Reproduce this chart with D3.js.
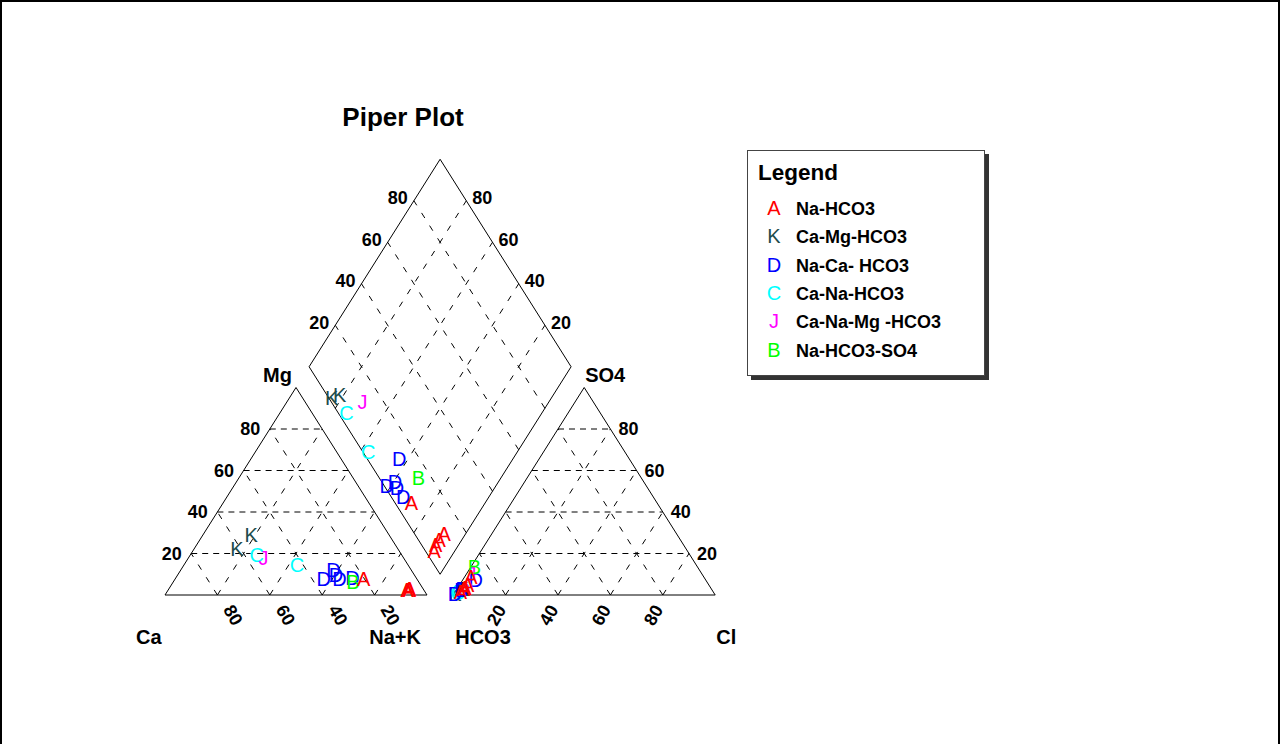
<!DOCTYPE html>
<html>
<head>
<meta charset="utf-8">
<script src="https://cdn.jsdelivr.net/npm/d3@7"></script>
<style>
  html, body { margin: 0; padding: 0; background: #fff; }
  svg { display: block; }
  text { font-family: "Liberation Sans", Arial, Helvetica, sans-serif; }
</style>
</head>
<body>
<script>
// ---- Sample compositions (percent of meq/L) ----
const sampleType = ["K", "K", "C", "C", "J", "D", "D", "D", "D", "D", "B", "A", "A", "A", "A", "A"];
const caPct   = [61.3, 52.7, 55.3, 42.4, 53.6, 35.4, 29.7, 30.0, 29.4, 24.2, 25.1, 20.4, 6.1, 6.3, 5.2, 5.4];
const mgPct   = [22.5, 28.9, 19.3, 14.5, 17.7, 8.0, 12.0, 9.5, 8.0, 8.5, 6.4, 7.6, 2.7, 2.5, 3.0, 2.6];
const naKPct  = [16.2, 18.4, 25.4, 43.1, 28.7, 56.6, 58.3, 60.5, 62.6, 67.3, 68.5, 72.0, 91.2, 91.2, 91.8, 92.0];
const hco3Pct = [99.0, 95.0, 96.9, 97.9, 88.0, 87.8, 99.1, 94.9, 95.6, 95.4, 85.1, 93.8, 94.5, 92.0, 88.7, 96.5];
const so4Pct  = [0.6, 3.0, 2.0, 1.0, 10.0, 7.2, 0.5, 3.0, 2.5, 2.6, 13.6, 3.5, 3.0, 5.0, 9.0, 1.5];
const clPct   = [0.4, 2.0, 1.1, 1.1, 2.0, 5.0, 0.4, 2.1, 1.9, 2.0, 1.3, 2.7, 2.5, 3.0, 2.3, 2.0];

// ---- Legend ----
const legendCodes  = ["A", "K", "D", "C", "J", "B"];
const legendLabels = ["Na-HCO3", "Ca-Mg-HCO3", "Na-Ca- HCO3", "Ca-Na-HCO3", "Ca-Na-Mg -HCO3", "Na-HCO3-SO4"];
const legendColors = ["#ff0000", "#1c4c4c", "#0000ff", "#00ffff", "#ff00ff", "#00ff00"];

// ---- Grid / tick values ----
const gridPct = [20, 40, 60, 80];

const W = 1280, H = 744;
const svg = d3.select("body").append("svg").attr("width", W).attr("height", H);

// outer frame
svg.append("rect").attr("x", 1).attr("y", 1).attr("width", W - 2).attr("height", H + 40)
  .attr("fill", "none").attr("stroke", "#000").attr("stroke-width", 2);

// Layout in triangle units: side = 1, height = 1, gap between triangles = 0.1
const gap = 0.1;
const X = d3.scaleLinear().domain([0, 2 + gap]).range([165, 715.2]);
const Y = d3.scaleLinear().domain([0, 2 + gap]).range([595, 159.25]);
const P = (u, v) => [X(u), Y(v)];
const color = d3.scaleOrdinal().domain(legendCodes).range(legendColors);

// composition -> unit coordinates
const cationPt = (mg, na) => [na / 100 + mg / 200, mg / 100];
const anionPt  = (so4, cl) => [1 + gap + cl / 100 + so4 / 200, so4 / 100];
const diamondPt = (na, sc) => {
  const c = 1 - na / 100, b = sc / 100;
  return [1 + gap / 2 - 0.5 * c + 0.5 * b, gap + c + b];
};

const line = d3.line().x(d => X(d[0])).y(d => Y(d[1]));
const g = svg.append("g");

// ---- Dashed grid ----
const gridG = g.append("g").attr("fill", "none").attr("stroke", "#000").attr("stroke-width", 1);
gridPct.forEach(p => {
  const t = p / 100;
  // cation triangle
  gridG.append("path").attr("d", line([[t / 2, t], [1 - t / 2, t]])).attr("stroke-dasharray", "6,5");
  gridG.append("path").attr("d", line([[1 - t, 0], [(1 - t) / 2, 1 - t]])).attr("stroke-dasharray", "6,9");
  gridG.append("path").attr("d", line([[t, 0], [t + (1 - t) / 2, 1 - t]])).attr("stroke-dasharray", "6,9");
  // anion triangle
  const o = 1 + gap;
  gridG.append("path").attr("d", line([[o + t / 2, t], [o + 1 - t / 2, t]])).attr("stroke-dasharray", "6,5");
  gridG.append("path").attr("d", line([[o + t, 0], [o + t + (1 - t) / 2, 1 - t]])).attr("stroke-dasharray", "6,9");
  gridG.append("path").attr("d", line([[o + 1 - t, 0], [o + (1 - t) / 2, 1 - t]])).attr("stroke-dasharray", "6,9");
  // diamond
  const bx = 1 + gap / 2, by = gap;
  gridG.append("path").attr("d", line([[bx + 0.5 * t, by + t], [bx - 0.5 + 0.5 * t, by + 1 + t]])).attr("stroke-dasharray", "6,9");
  gridG.append("path").attr("d", line([[bx - 0.5 * t, by + t], [bx + 0.5 - 0.5 * t, by + 1 + t]])).attr("stroke-dasharray", "6,9");
});

// ---- Outlines ----
const outG = g.append("g").attr("fill", "none").attr("stroke", "#000").attr("stroke-width", 1);
outG.append("path").attr("d", line([[0, 0], [1, 0], [0.5, 1], [0, 0]]));
outG.append("path").attr("d", line([[1 + gap, 0], [2 + gap, 0], [1.5 + gap, 1], [1 + gap, 0]]));
outG.append("path").attr("d", line([[1 + gap / 2, gap], [1.5 + gap / 2, 1 + gap], [1 + gap / 2, 2 + gap], [0.5 + gap / 2, 1 + gap], [1 + gap / 2, gap]]));

// ---- Tick labels ----
const tickG = g.append("g").attr("font-size", 18).attr("font-weight", "bold").attr("fill", "#000");
const capMid = 6.4;
gridPct.forEach(p => {
  const t = p / 100;
  // Mg (left side of cation triangle)
  let [x, y] = P(t / 2, t);
  tickG.append("text").attr("x", x - 9.5).attr("y", y + capMid).attr("text-anchor", "end").text(p);
  // Ca (bottom of cation triangle)
  [x, y] = P(1 - t, 0);
  tickG.append("text").attr("transform", `translate(${x + 16},${615}) rotate(60)`)
    .attr("y", capMid).attr("text-anchor", "middle").text(p);
  // Cl (bottom of anion triangle)
  [x, y] = P(1 + gap + t, 0);
  tickG.append("text").attr("transform", `translate(${x - 9.5},${615}) rotate(-60)`)
    .attr("y", capMid).attr("text-anchor", "middle").text(p);
  // SO4 (right side of anion triangle)
  [x, y] = P(2 + gap - t / 2, t);
  tickG.append("text").attr("x", x + 8).attr("y", y + capMid).attr("text-anchor", "start").text(p);
  // diamond upper-left edge
  [x, y] = P(0.5 + gap / 2 + 0.5 * t, 1 + gap + t);
  tickG.append("text").attr("x", x - 6).attr("y", y - 3 + capMid).attr("text-anchor", "end").text(p);
  // diamond upper-right edge
  [x, y] = P(1.5 + gap / 2 - 0.5 * t, 1 + gap + t);
  tickG.append("text").attr("x", x + 6).attr("y", y - 3 + capMid).attr("text-anchor", "start").text(p);
});

// ---- Apex labels ----
const axG = g.append("g").attr("font-size", 20).attr("font-weight", "bold").attr("fill", "#000");
axG.append("text").attr("x", X(0.5) - 4).attr("y", Y(1) - 6).attr("text-anchor", "end").text("Mg");
axG.append("text").attr("x", X(1.5 + gap) + 1).attr("y", Y(1) - 6).attr("text-anchor", "start").text("SO4");
axG.append("text").attr("x", X(0) - 29).attr("y", 644).attr("text-anchor", "start").text("Ca");
axG.append("text").attr("x", X(1) - 6).attr("y", 644).attr("text-anchor", "end").text("Na+K");
axG.append("text").attr("x", X(1 + gap) + 2).attr("y", 644).attr("text-anchor", "start").text("HCO3");
axG.append("text").attr("x", X(2 + gap) + 1).attr("y", 644).attr("text-anchor", "start").text("Cl");

// ---- Title ----
svg.append("text").attr("x", 403).attr("y", 126).attr("text-anchor", "middle")
  .attr("font-size", 26).attr("font-weight", "bold").text("Piper Plot");

// ---- Sample letters ----
const markG = g.append("g").attr("font-size", 20).attr("text-anchor", "middle");
const markCap = 7.2;
sampleType.forEach((code, i) => {
  const pts = [
    cationPt(mgPct[i], naKPct[i]),
    anionPt(so4Pct[i], clPct[i]),
    diamondPt(naKPct[i], so4Pct[i] + clPct[i])
  ];
  pts.forEach(([u, v]) => {
    markG.append("text").attr("x", X(u)).attr("y", Y(v) + markCap)
      .attr("fill", color(code)).text(code);
  });
});

// ---- Legend ----
const lg = svg.append("g");
lg.append("rect").attr("x", 751).attr("y", 154).attr("width", 238).attr("height", 226).attr("fill", "#333");
lg.append("rect").attr("x", 747.5).attr("y", 150.5).attr("width", 237).attr("height", 225)
  .attr("fill", "#fff").attr("stroke", "#444").attr("stroke-width", 1);
lg.append("text").attr("x", 758).attr("y", 180).attr("font-size", 22.5).attr("font-weight", "bold").text("Legend");
legendCodes.forEach((code, i) => {
  const yb = 215 + i * 28.33;
  lg.append("text").attr("x", 774).attr("y", yb).attr("text-anchor", "middle")
    .attr("font-size", 20).attr("fill", legendColors[i]).text(code);
  lg.append("text").attr("x", 796).attr("y", yb).attr("font-size", 18).attr("font-weight", "bold")
    .attr("fill", "#000").text(legendLabels[i]);
});
</script>
</body>
</html>
